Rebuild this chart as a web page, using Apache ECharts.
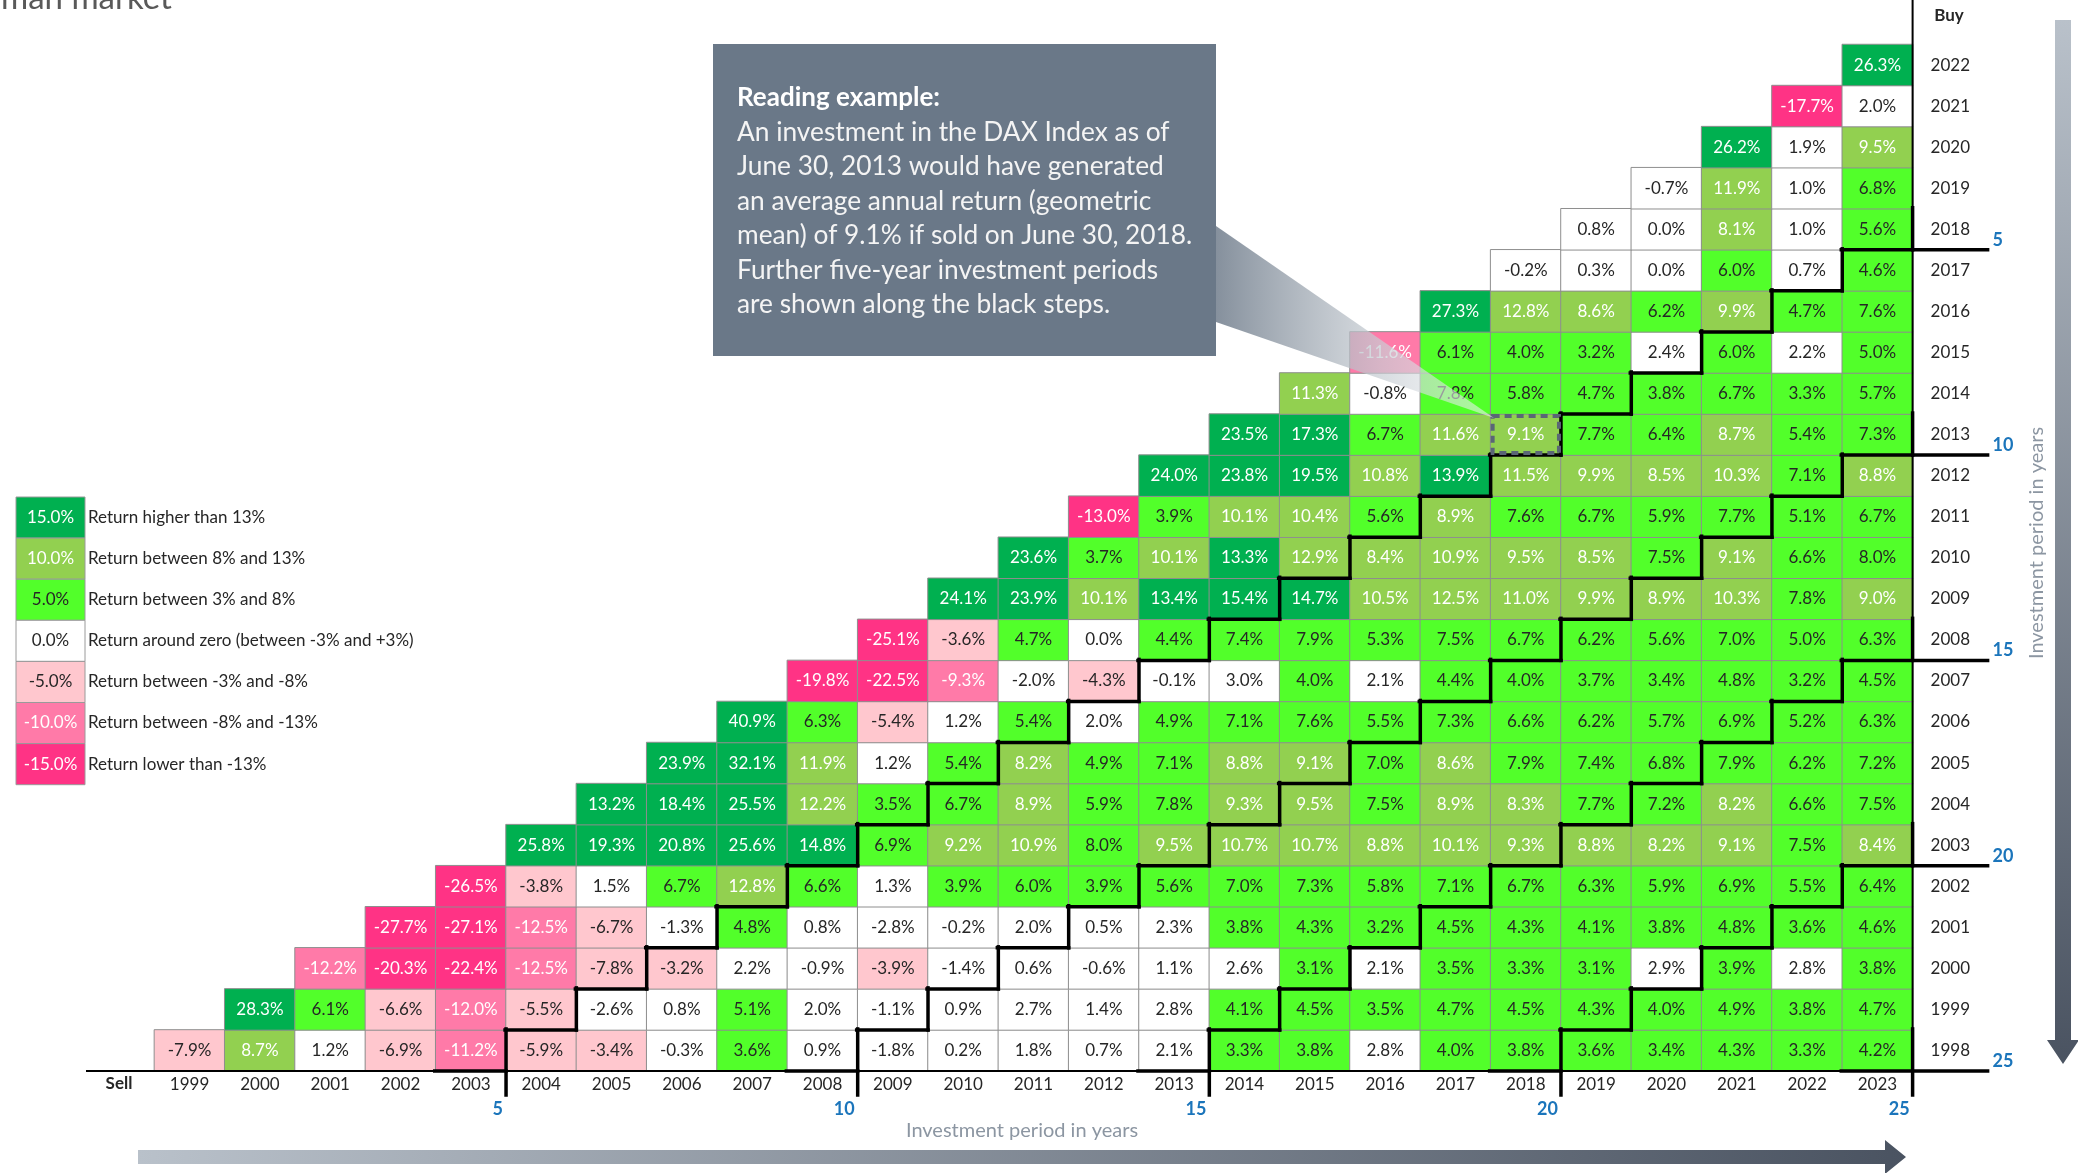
<!DOCTYPE html>
<html><head><meta charset="utf-8">
<script src="https://cdn.jsdelivr.net/npm/echarts@6/dist/echarts.min.js"></script>
<style>html,body{margin:0;padding:0;background:#fff}#c{width:2078px;height:1173px}</style>
</head><body><div id="c"></div>
<script>
const sellYears = ['1999','2000','2001','2002','2003','2004','2005','2006','2007','2008','2009','2010','2011','2012','2013','2014','2015','2016','2017','2018','2019','2020','2021','2022','2023'];
const buyYears  = ['1998','1999','2000','2001','2002','2003','2004','2005','2006','2007','2008','2009','2010','2011','2012','2013','2014','2015','2016','2017','2018','2019','2020','2021','2022'];

// returns per buy year, for sell years buy+1 ... 2023
const buy1998 = [-7.9, 8.7, 1.2, -6.9, -11.2, -5.9, -3.4, -0.3, 3.6, 0.9, -1.8, 0.2, 1.8, 0.7, 2.1, 3.3, 3.8, 2.8, 4.0, 3.8, 3.6, 3.4, 4.3, 3.3, 4.2];
const buy1999 = [28.3, 6.1, -6.6, -12.0, -5.5, -2.6, 0.8, 5.1, 2.0, -1.1, 0.9, 2.7, 1.4, 2.8, 4.1, 4.5, 3.5, 4.7, 4.5, 4.3, 4.0, 4.9, 3.8, 4.7];
const buy2000 = [-12.2, -20.3, -22.4, -12.5, -7.8, -3.2, 2.2, -0.9, -3.9, -1.4, 0.6, -0.6, 1.1, 2.6, 3.1, 2.1, 3.5, 3.3, 3.1, 2.9, 3.9, 2.8, 3.8];
const buy2001 = [-27.7, -27.1, -12.5, -6.7, -1.3, 4.8, 0.8, -2.8, -0.2, 2.0, 0.5, 2.3, 3.8, 4.3, 3.2, 4.5, 4.3, 4.1, 3.8, 4.8, 3.6, 4.6];
const buy2002 = [-26.5, -3.8, 1.5, 6.7, 12.8, 6.6, 1.3, 3.9, 6.0, 3.9, 5.6, 7.0, 7.3, 5.8, 7.1, 6.7, 6.3, 5.9, 6.9, 5.5, 6.4];
const buy2003 = [25.8, 19.3, 20.8, 25.6, 14.8, 6.9, 9.2, 10.9, 8.0, 9.5, 10.7, 10.7, 8.8, 10.1, 9.3, 8.8, 8.2, 9.1, 7.5, 8.4];
const buy2004 = [13.2, 18.4, 25.5, 12.2, 3.5, 6.7, 8.9, 5.9, 7.8, 9.3, 9.5, 7.5, 8.9, 8.3, 7.7, 7.2, 8.2, 6.6, 7.5];
const buy2005 = [23.9, 32.1, 11.9, 1.2, 5.4, 8.2, 4.9, 7.1, 8.8, 9.1, 7.0, 8.6, 7.9, 7.4, 6.8, 7.9, 6.2, 7.2];
const buy2006 = [40.9, 6.3, -5.4, 1.2, 5.4, 2.0, 4.9, 7.1, 7.6, 5.5, 7.3, 6.6, 6.2, 5.7, 6.9, 5.2, 6.3];
const buy2007 = [-19.8, -22.5, -9.3, -2.0, -4.3, -0.1, 3.0, 4.0, 2.1, 4.4, 4.0, 3.7, 3.4, 4.8, 3.2, 4.5];
const buy2008 = [-25.1, -3.6, 4.7, 0.0, 4.4, 7.4, 7.9, 5.3, 7.5, 6.7, 6.2, 5.6, 7.0, 5.0, 6.3];
const buy2009 = [24.1, 23.9, 10.1, 13.4, 15.4, 14.7, 10.5, 12.5, 11.0, 9.9, 8.9, 10.3, 7.8, 9.0];
const buy2010 = [23.6, 3.7, 10.1, 13.3, 12.9, 8.4, 10.9, 9.5, 8.5, 7.5, 9.1, 6.6, 8.0];
const buy2011 = [-13.0, 3.9, 10.1, 10.4, 5.6, 8.9, 7.6, 6.7, 5.9, 7.7, 5.1, 6.7];
const buy2012 = [24.0, 23.8, 19.5, 10.8, 13.9, 11.5, 9.9, 8.5, 10.3, 7.1, 8.8];
const buy2013 = [23.5, 17.3, 6.7, 11.6, 9.1, 7.7, 6.4, 8.7, 5.4, 7.3];
const buy2014 = [11.3, -0.8, 7.8, 5.8, 4.7, 3.8, 6.7, 3.3, 5.7];
const buy2015 = [-11.6, 6.1, 4.0, 3.2, 2.4, 6.0, 2.2, 5.0];
const buy2016 = [27.3, 12.8, 8.6, 6.2, 9.9, 4.7, 7.6];
const buy2017 = [-0.2, 0.3, 0.0, 6.0, 0.7, 4.6];
const buy2018 = [0.8, 0.0, 8.1, 1.0, 5.6];
const buy2019 = [-0.7, 11.9, 1.0, 6.8];
const buy2020 = [26.2, 1.9, 9.5];
const buy2021 = [-17.7, 2.0];
const buy2022 = [26.3];

const stepEvery = 5;
const exampleBuy = '2013';
const exampleSell = '2018';

const legendValues = [15.0, 10.0, 5.0, 0.0, -5.0, -10.0, -15.0];
const legendLabels = ['Return higher than 13%', 'Return between 8% and 13%', 'Return between 3% and 8%',
  'Return around zero (between -3% and +3%)', 'Return between -3% and -8%', 'Return between -8% and -13%', 'Return lower than -13%'];

const calloutTitle = 'Reading example:';
const calloutLines = ['An investment in the DAX Index as of', 'June 30, 2013 would have generated',
  'an average annual return (geometric', 'mean) of 9.1% if sold on June 30, 2018.',
  'Further five-year investment periods', 'are shown along the black steps.'];

const rows = [buy1998, buy1999, buy2000, buy2001, buy2002, buy2003, buy2004, buy2005, buy2006, buy2007, buy2008, buy2009,
  buy2010, buy2011, buy2012, buy2013, buy2014, buy2015, buy2016, buy2017, buy2018, buy2019, buy2020, buy2021, buy2022];

const C_DG = '#00B050', C_OL = '#92D050', C_LG = '#52FF2A', C_WH = '#FFFFFF', C_LP = '#FFC7CE', C_MP = '#FF7AA8', C_HP = '#FF3385';
function colorOf(v){
  if (v > 13) return C_DG; if (v > 8) return C_OL; if (v > 3) return C_LG;
  if (v >= -3) return C_WH; if (v >= -8) return C_LP; if (v > -13) return C_MP; return C_HP;
}
function textColorOf(v){ return (v > 8 || v < -8) ? '#FFFFFF' : '#262626'; }

const FONT = 'Lato, "Open Sans", sans-serif';
const heatData = [], stepData = [];
rows.forEach((row, bi) => {
  row.forEach((v, k) => {
    const si = bi + k;
    heatData.push({ value: [si, bi, v], label: { color: textColorOf(v) } });
    const period = (si + 1999) - (bi + 1998);
    if (period % stepEvery === 0) stepData.push([si, bi, period]);
  });
});
const exampleData = [[sellYears.indexOf(exampleSell), buyYears.indexOf(exampleBuy)]];

const GL = 154.4, GR = 1912.6, GT = 44.5, GB = 1071;
const chart = echarts.init(document.getElementById('c'), null, { renderer: 'canvas' });

const graphics = [];
// title (clipped at top)
graphics.push({ type: 'text', x: 1, y: 15, style: { text: 'man market', fontSize: 33, fontFamily: FONT, fill: '#595959', verticalAlign: 'bottom' } });
// legend
legendValues.forEach((v, i) => {
  const top = 497 + i * 41.1;
  graphics.push({ type: 'rect', shape: { x: 16, y: top, width: 69, height: 41.1 }, style: { fill: colorOf(v), stroke: '#9a9a9a', lineWidth: 1 } });
  graphics.push({ type: 'text', x: 50.5, y: top + 20.5, style: { text: v.toFixed(1) + '%', fontSize: 17, fontFamily: FONT, fill: textColorOf(v === 10 ? 10 : v), align: 'center', verticalAlign: 'middle' } });
  graphics.push({ type: 'text', x: 88, y: top + 20.5, style: { text: legendLabels[i], fontSize: 17, fontFamily: FONT, fill: '#262626', align: 'left', verticalAlign: 'middle' } });
});
// callout wedge
graphics.push({ type: 'polygon', z: 40, shape: { points: [[1216, 226], [1216, 322], [1494, 418]] },
  style: { fill: new echarts.graphic.LinearGradient(0, 0, 1, 0, [{ offset: 0, color: 'rgba(120,132,146,0.9)' }, { offset: 0.6, color: 'rgba(200,206,212,0.7)' }, { offset: 1, color: 'rgba(245,246,248,0.55)' }]) } });
// callout box
graphics.push({ type: 'rect', z: 50, shape: { x: 713, y: 44, width: 503, height: 312 }, style: { fill: '#6A7888' } });
graphics.push({ type: 'text', z: 51, x: 737, y: 98, style: { text: calloutTitle, fontSize: 26, fontWeight: 'bold', fontFamily: FONT, fill: '#FFFFFF', verticalAlign: 'middle' } });
calloutLines.forEach((t, i) => {
  graphics.push({ type: 'text', z: 51, x: 737, y: 132.5 + i * 34.5, style: { text: t, fontSize: 26.3, fontFamily: FONT, fill: '#F4F4F4', verticalAlign: 'middle' } });
});
// axis frame extensions
graphics.push({ type: 'line', z: 30, shape: { x1: 86, y1: GB, x2: GR, y2: GB }, style: { stroke: '#000', lineWidth: 2 } });
graphics.push({ type: 'line', z: 30, shape: { x1: GR, y1: 0, x2: GR, y2: GB + 24 }, style: { stroke: '#000', lineWidth: 2 } });
graphics.push({ type: 'text', x: 119, y: 1084, style: { text: 'Sell', fontSize: 17, fontWeight: 'bold', fontFamily: FONT, fill: '#262626', align: 'center', verticalAlign: 'middle' } });
graphics.push({ type: 'text', x: 1949, y: 16, style: { text: 'Buy', fontSize: 17, fontWeight: 'bold', fontFamily: FONT, fill: '#262626', align: 'center', verticalAlign: 'middle' } });
// axis titles
graphics.push({ type: 'text', x: 1022, y: 1131, style: { text: 'Investment period in years', fontSize: 20, fontFamily: FONT, fill: '#8C96A2', align: 'center', verticalAlign: 'middle' } });
graphics.push({ type: 'text', x: 2037, y: 543, rotation: Math.PI / 2, style: { text: 'Investment period in years', fontSize: 20, fontFamily: FONT, fill: '#8C96A2', align: 'center', verticalAlign: 'middle' } });
// arrows
graphics.push({ type: 'polygon', shape: { points: [[138, 1150], [1885, 1150], [1885, 1140], [1906, 1157], [1885, 1174], [1885, 1164], [138, 1164]] },
  style: { fill: new echarts.graphic.LinearGradient(0, 0, 1, 0, [{ offset: 0, color: '#B9C1CA' }, { offset: 1, color: '#4A5361' }]) } });
graphics.push({ type: 'polygon', shape: { points: [[2055, 20], [2071, 20], [2071, 1040], [2079, 1040], [2063, 1064], [2047, 1040], [2055, 1040]] },
  style: { fill: new echarts.graphic.LinearGradient(0, 0, 0, 1, [{ offset: 0, color: '#B9C1CA' }, { offset: 1, color: '#4A5361' }]) } });

const option = {
  animation: false,
  backgroundColor: '#FFFFFF',
  grid: { left: GL, top: GT, width: GR - GL, height: GB - GT },
  xAxis: { type: 'category', data: sellYears, axisLine: { show: false }, axisTick: { show: false }, splitLine: { show: false },
    axisLabel: { fontSize: 17, fontFamily: FONT, color: '#262626', margin: 5 } },
  yAxis: { type: 'category', data: buyYears, position: 'right', axisLine: { show: false }, axisTick: { show: false }, splitLine: { show: false },
    axisLabel: { fontSize: 17, fontFamily: FONT, color: '#262626', margin: 18 } },
  visualMap: { show: false, type: 'piecewise', dimension: 2, seriesIndex: 0,
    pieces: [{ gt: 13, color: C_DG }, { gt: 8, lte: 13, color: C_OL }, { gt: 3, lte: 8, color: C_LG }, { gte: -3, lte: 3, color: C_WH },
      { gte: -8, lt: -3, color: C_LP }, { gt: -13, lt: -8, color: C_MP }, { lte: -13, color: C_HP }] },
  graphic: { elements: graphics },
  series: [
    { type: 'heatmap', data: heatData, z: 2,
      itemStyle: { borderColor: '#8E8E8E', borderWidth: 1 },
      label: { show: true, fontSize: 17, fontFamily: FONT, formatter: p => p.value[2].toFixed(1) + '%' },
      emphasis: { disabled: true } },
    { type: 'custom', data: stepData, z: 5, clip: false, silent: true,
      renderItem: (params, api) => {
        const x = api.value(0), y = api.value(1), per = api.value(2);
        const c = api.coord([x, y]), sz = api.size([1, 1]);
        const L = c[0] - sz[0] / 2, R = c[0] + sz[0] / 2, T = c[1] - sz[1] / 2, B = c[1] + sz[1] / 2;
        const lastCol = x === sellYears.length - 1, firstRow = y === 0;
        const ch = [];
        ch.push({ type: 'line', shape: { x1: L - 1, y1: B, x2: lastCol ? R + 75 : R, y2: B }, style: { stroke: '#000', lineWidth: 3.5, lineCap: 'square' } });
        ch.push({ type: 'line', shape: { x1: R, y1: T - 1, x2: R, y2: firstRow ? B + 24 : B }, style: { stroke: '#000', lineWidth: 3.5, lineCap: 'square' } });
        if (lastCol) ch.push({ type: 'text', style: { text: String(per), x: R + 80, y: B - 1, fontSize: 18, fontWeight: 'bold', fontFamily: FONT, fill: '#1B75BB', align: 'left', verticalAlign: 'bottom' } });
        if (firstRow) ch.push({ type: 'text', style: { text: String(per), x: R - 3, y: B + 29, fontSize: 18, fontWeight: 'bold', fontFamily: FONT, fill: '#1B75BB', align: 'right', verticalAlign: 'top' } });
        return { type: 'group', children: ch };
      } },
    { type: 'custom', data: exampleData, z: 6, clip: false, silent: true,
      renderItem: (params, api) => {
        const c = api.coord([api.value(0), api.value(1)]), sz = api.size([1, 1]);
        return { type: 'rect', shape: { x: c[0] - sz[0] / 2 + 2, y: c[1] - sz[1] / 2 + 2, width: sz[0] - 4, height: sz[1] - 4 },
          style: { fill: 'none', stroke: '#5A6676', lineWidth: 4, lineDash: [7, 5] } };
      } }
  ]
};
chart.setOption(option);
</script></body></html>
